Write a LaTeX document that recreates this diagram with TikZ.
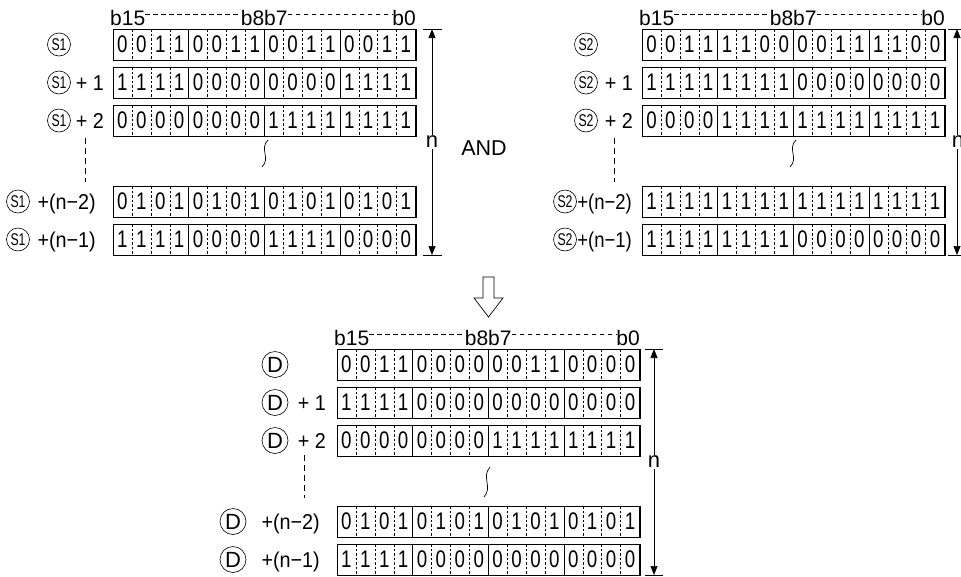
\documentclass[tikz,border=0pt]{standalone}
\usepackage{fontspec}
\setmainfont{Liberation Sans}
\usetikzlibrary{arrows.meta,calc}
\tikzset{
  x=1pt,y=-1pt,
  regbox/.style={draw, line width=1.2pt, minimum width=302.4pt, minimum height=31pt, inner sep=0pt},
  nib/.style={line width=0.6pt},
  bitsep/.style={line width=0.4pt, dash pattern=on 2.5pt off 2pt},
  bit/.style={font=\fontsize{24}{24}\selectfont, inner sep=0pt},
  lbl/.style={font=\fontsize{21.5}{21.5}\selectfont, inner sep=0pt},
  blbl/.style={font=\fontsize{21}{21}\selectfont, inner sep=0pt},
  hdash/.style={line width=0.5pt, dash pattern=on 4.5pt off 3.5pt},
  vdash/.style={line width=0.7pt, dash pattern=on 6pt off 4pt},
  circ/.style={circle, draw, line width=0.6pt, inner sep=0pt, minimum size=23pt, font=\fontsize{17}{17}\selectfont},
  dcirc/.style={circle, draw, line width=0.6pt, inner sep=0pt, minimum size=26pt, font=\fontsize{22}{22}\selectfont},
  dimarrow/.style={line width=0.7pt, {Triangle[length=9pt,width=7pt]}-{Triangle[length=9pt,width=7pt]}},
  tick/.style={line width=0.7pt},
  nlbl/.style={font=\fontsize{22}{22}\selectfont, fill=white, inner sep=1pt},
  squig/.style={line width=0.7pt},
}
\newcommand{\regrow}[4]{%
  \foreach \k in {4,8,12} \draw[nib] ({#2+18.9*\k},#3) -- ({#2+18.9*\k},{#3+31});
  \foreach \k in {1,2,3,5,6,7,9,10,11,13,14,15} \draw[bitsep] ({#2+18.9*\k},#3) -- ({#2+18.9*\k},{#3+31});
  \foreach \b [count=\i from 0] in {#4} \node[bit] (#1-\i) at ({#2+18.9*\i+9.45},{#3+15.5}) {\scalebox{0.78}[1]{\b}};
  \node[regbox, anchor=north west] (#1) at (#2,#3) {};
}
\newcommand{\bhead}[3]{%
  \node[blbl, anchor=base west] (#1b15) at ({#2-3},{#3-4}) {b15};
  \node[blbl, anchor=base] (#1b87) at ({#2+151.2},{#3-4}) {b8b7};
  \node[blbl, anchor=base east] (#1b0) at ({#2+303},{#3-4}) {b0};
  \draw[hdash] ($(#1b15.base east)+(0,-11)$) -- ($(#1b87.base west)+(0,-11)$);
  \draw[hdash] ($(#1b87.base east)+(0,-11)$) -- ($(#1b0.base west)+(0,-11)$);
}
\newcommand{\Sone}{\scalebox{0.72}[1]{S1}}
\newcommand{\Stwo}{\scalebox{0.72}[1]{S2}}
\newcommand{\nar}[1]{\scalebox{0.92}[1]{#1}}
\newcommand{\narr}[1]{\scalebox{0.86}[1]{#1}}
\begin{document}
\begin{tikzpicture}
\useasboundingbox (0,0) rectangle (961,576);
\clip (0,0) rectangle (961,576);

% ---------------- S1 block ----------------
\bhead{a}{113}{29}
\regrow{a1}{113}{29}{0,0,1,1,0,0,1,1,0,0,1,1,0,0,1,1}
\regrow{a2}{113}{67}{1,1,1,1,0,0,0,0,0,0,0,0,1,1,1,1}
\regrow{a3}{113}{105}{0,0,0,0,0,0,0,0,1,1,1,1,1,1,1,1}
\regrow{a4}{113}{186}{0,1,0,1,0,1,0,1,0,1,0,1,0,1,0,1}
\regrow{a5}{113}{224}{1,1,1,1,0,0,0,0,1,1,1,1,0,0,0,0}
\node[circ] (la1) at (59,44.5) {\Sone};
\node[circ] (la2) at (59,82.5) {\Sone};
\node[lbl, anchor=base east] (la2p) at (104,90.5) {\nar{+ 1}};
\node[circ] (la3) at (59,120.5) {\Sone};
\node[lbl, anchor=base east] (la3p) at (104,128.5) {\nar{+ 2}};
\node[circ] (la4) at (18,201.5) {\Sone};
\node[lbl, anchor=base east] (la4p) at (96,209.5) {\nar{+(n−2)}};
\node[circ] (la5) at (18,239.5) {\Sone};
\node[lbl, anchor=base east] (la5p) at (96,247.5) {\nar{+(n−1)}};
\coordinate (va1) at (85,138);
\coordinate (va2) at (85,182);
\draw[vdash] (va1) -- (va2);
\draw[squig] (268,140) .. controls (259,149) and (271,158) .. (262,167);
\coordinate (aTop) at (432,29);
\coordinate (aBot) at (432,255);
\draw[tick] (423,29) -- (442,29);
\draw[tick] (423,255) -- (442,255);
\draw[dimarrow] (aTop) -- (aBot);
\node[nlbl] (an) at (432,142) {n};

\node[lbl] (and) at (484,148) {AND};

% ---------------- S2 block ----------------
\bhead{b}{642}{29}
\regrow{b1}{642}{29}{0,0,1,1,1,1,0,0,0,0,1,1,1,1,0,0}
\regrow{b2}{642}{67}{1,1,1,1,1,1,1,1,0,0,0,0,0,0,0,0}
\regrow{b3}{642}{105}{0,0,0,0,1,1,1,1,1,1,1,1,1,1,1,1}
\regrow{b4}{642}{186}{1,1,1,1,1,1,1,1,1,1,1,1,1,1,1,1}
\regrow{b5}{642}{224}{1,1,1,1,1,1,1,1,0,0,0,0,0,0,0,0}
\node[circ] (lb1) at (586,44.5) {\Stwo};
\node[circ] (lb2) at (586,82.5) {\Stwo};
\node[lbl, anchor=base east] (lb2p) at (633,90.5) {\nar{+ 1}};
\node[circ] (lb3) at (586,120.5) {\Stwo};
\node[lbl, anchor=base east] (lb3p) at (633,128.5) {\nar{+ 2}};
\node[circ] (lb4) at (565,201.5) {\Stwo};
\node[lbl, anchor=base east] (lb4p) at (632,209.5) {\narr{+(n−2)}};
\node[circ] (lb5) at (565,239.5) {\Stwo};
\node[lbl, anchor=base east] (lb5p) at (632,247.5) {\narr{+(n−1)}};
\coordinate (vb1) at (614,138);
\coordinate (vb2) at (614,182);
\draw[vdash] (vb1) -- (vb2);
\draw[squig] (796,140) .. controls (787,149) and (799,158) .. (790,167);
\coordinate (bTop) at (957,29);
\coordinate (bBot) at (957,255);
\draw[tick] (948,29) -- (966,29);
\draw[tick] (948,255) -- (966,255);
\draw[dimarrow] (bTop) -- (bBot);
\node[nlbl] (bn) at (958,142) {n};

% ---------------- hollow arrow ----------------
\draw[line width=0.7pt] (483,277) -- (494,277) -- (494,298) -- (503,298) -- (488.5,317) -- (474,298) -- (483,298) -- cycle;

% ---------------- D block ----------------
\bhead{d}{337}{349}
\regrow{d1}{337}{349}{0,0,1,1,0,0,0,0,0,0,1,1,0,0,0,0}
\regrow{d2}{337}{387}{1,1,1,1,0,0,0,0,0,0,0,0,0,0,0,0}
\regrow{d3}{337}{425}{0,0,0,0,0,0,0,0,1,1,1,1,1,1,1,1}
\regrow{d4}{337}{506}{0,1,0,1,0,1,0,1,0,1,0,1,0,1,0,1}
\regrow{d5}{337}{544}{1,1,1,1,0,0,0,0,0,0,0,0,0,0,0,0}
\node[dcirc] (ld1) at (275,364.5) {D};
\node[dcirc] (ld2) at (275,402.5) {D};
\node[lbl, anchor=base east] (ld2p) at (326,410.5) {\nar{+ 1}};
\node[dcirc] (ld3) at (275,440.5) {D};
\node[lbl, anchor=base east] (ld3p) at (326,448.5) {\nar{+ 2}};
\node[dcirc] (ld4) at (233,521.5) {D};
\node[lbl, anchor=base east] (ld4p) at (320,529.5) {\nar{+(n−2)}};
\node[dcirc] (ld5) at (233,559.5) {D};
\node[lbl, anchor=base east] (ld5p) at (320,567.5) {\nar{+(n−1)}};
\coordinate (vd1) at (304,455);
\coordinate (vd2) at (304,498);
\draw[vdash] (vd1) -- (vd2);
\draw[squig] (490,467) .. controls (481,477) and (493,487) .. (484,497);
\coordinate (dTop) at (654,349);
\coordinate (dBot) at (654,575);
\draw[tick] (645,349) -- (663,349);
\draw[tick] (645,575) -- (663,575);
\draw[dimarrow] (dTop) -- (dBot);
\node[nlbl] (dn) at (654,462) {n};
\end{tikzpicture}
\end{document}
